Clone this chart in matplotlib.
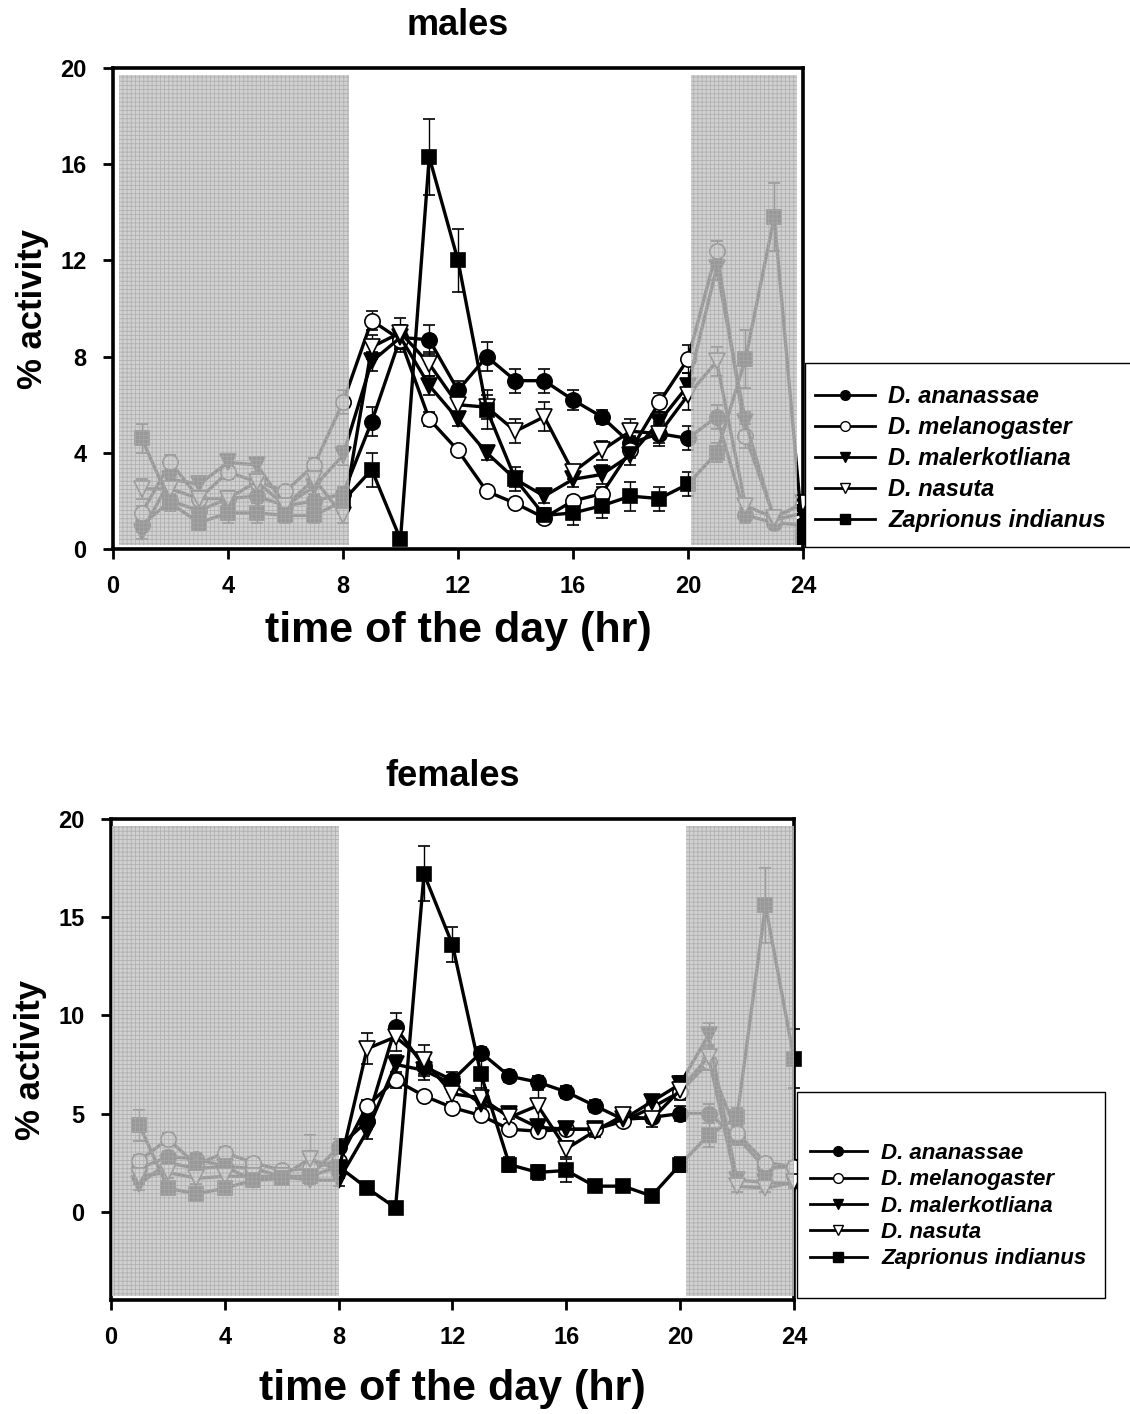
import matplotlib
matplotlib.use('Agg')
import matplotlib.pyplot as plt
from matplotlib.lines import Line2D
from matplotlib.patches import Rectangle
import numpy as np

plt.rcParams['font.family'] = ['Liberation Sans', 'DejaVu Sans']
plt.rcParams['font.weight'] = 'bold'
plt.rcParams['hatch.color'] = '#b8b8b8'
plt.rcParams['hatch.linewidth'] = 0.6

hours = np.arange(1, 25)

species = ['D. ananassae', 'D. melanogaster', 'D. malerkotliana',
           'D. nasuta', 'Zaprionus indianus']

# males, % activity per hour (1..24)
m_anan = [1.0, 2.0, 1.6, 2.1, 2.2, 1.8, 2.0, 2.3, 5.3, 8.8, 8.7, 6.6,
          8.0, 7.0, 7.0, 6.2, 5.5, 4.4, 4.8, 4.6, 5.5, 1.4, 1.1, 1.0]
m_mel = [1.5, 3.6, 2.1, 3.2, 2.8, 2.4, 3.5, 6.1, 9.5, 8.7, 5.4, 4.1,
         2.4, 1.9, 1.3, 2.0, 2.3, 4.1, 6.1, 7.9, 12.4, 4.7, 1.3, 1.9]
m_mal = [0.7, 2.9, 2.7, 3.6, 3.5, 1.8, 2.6, 3.9, 7.8, 8.8, 6.8, 5.4,
         4.0, 2.9, 2.2, 2.9, 3.1, 3.9, 5.3, 6.8, 11.7, 5.3, 1.2, 1.5]
m_nas = [2.5, 2.5, 2.1, 2.1, 2.8, 1.8, 2.9, 1.4, 8.4, 9.0, 7.7, 6.0,
         5.9, 4.9, 5.5, 3.2, 4.1, 4.9, 4.8, 6.4, 7.8, 1.8, 1.3, 1.9]
m_zap = [4.6, 1.9, 1.1, 1.5, 1.5, 1.4, 1.4, 2.0, 3.3, 0.4, 16.3, 12.0,
         5.8, 2.9, 1.4, 1.5, 1.8, 2.2, 2.1, 2.7, 4.0, 7.9, 13.8, 0.5]

m_anan_err = [0.3, 0.3, 0.3, 0.3, 0.3, 0.2, 0.3, 0.3, 0.6, 0.5, 0.6, 0.4,
              0.6, 0.5, 0.5, 0.4, 0.3, 0.3, 0.4, 0.5, 0.5, 0.3, 0.2, 0.2]
m_mel_err = [0.3, 0.3, 0.3, 0.3, 0.3, 0.2, 0.3, 0.5, 0.4, 0.5, 0.3, 0.2,
             0.2, 0.2, 0.2, 0.2, 0.3, 0.3, 0.4, 0.6, 0.4, 0.5, 0.2, 0.3]
m_mal_err = [0.3, 0.3, 0.3, 0.3, 0.3, 0.2, 0.3, 0.4, 0.4, 0.5, 0.4, 0.3,
             0.3, 0.3, 0.3, 0.3, 0.4, 0.4, 0.4, 0.5, 0.5, 0.4, 0.2, 0.3]
m_nas_err = [0.4, 0.3, 0.3, 0.3, 0.3, 0.2, 0.3, 0.3, 0.5, 0.6, 0.5, 0.4,
             0.5, 0.5, 0.6, 0.3, 0.4, 0.5, 0.5, 0.6, 0.6, 0.3, 0.2, 0.3]
m_zap_err = [0.6, 0.3, 0.3, 0.4, 0.4, 0.3, 0.3, 0.5, 0.7, 0.1, 1.6, 1.3,
             0.8, 0.5, 0.3, 0.5, 0.5, 0.6, 0.5, 0.5, 0.4, 1.2, 1.4, 0.3]

# females, % activity per hour (1..24)
f_anan = [2.2, 2.8, 2.7, 2.3, 2.2, 1.8, 1.8, 3.3, 4.6, 9.4, 7.4, 6.7,
          8.1, 6.9, 6.6, 6.1, 5.4, 4.7, 4.8, 5.0, 5.0, 3.8, 2.2, 2.3]
f_mel = [2.6, 3.7, 2.4, 3.0, 2.5, 2.1, 2.2, 2.6, 5.4, 6.7, 5.9, 5.3,
         4.9, 4.2, 4.1, 4.2, 4.2, 4.6, 5.3, 6.1, 7.6, 4.0, 2.5, 2.3]
f_mal = [1.4, 2.5, 2.2, 2.3, 1.6, 1.8, 1.6, 1.6, 4.1, 7.5, 7.2, 6.5,
         5.5, 5.0, 4.3, 4.2, 4.2, 4.7, 5.6, 6.5, 9.0, 1.6, 1.5, 1.4]
f_nas = [1.8, 2.0, 1.7, 1.8, 1.8, 1.8, 2.7, 2.1, 8.3, 8.9, 7.7, 6.0,
         5.8, 4.8, 5.4, 3.2, 4.1, 4.9, 4.7, 6.2, 7.9, 1.3, 1.2, 1.5]
f_zap = [4.4, 1.2, 0.9, 1.2, 1.6, 1.7, 1.8, 2.3, 1.2, 0.2, 17.2, 13.6,
         7.0, 2.4, 2.0, 2.1, 1.3, 1.3, 0.8, 2.4, 3.9, 4.8, 15.6, 7.8]

f_anan_err = [0.3, 0.3, 0.3, 0.3, 0.3, 0.2, 0.2, 0.4, 0.4, 0.7, 0.4, 0.4,
              0.3, 0.3, 0.3, 0.3, 0.3, 0.3, 0.3, 0.4, 0.5, 0.4, 0.3, 0.3]
f_mel_err = [0.3, 0.3, 0.3, 0.3, 0.3, 0.2, 0.2, 0.3, 0.3, 0.4, 0.2, 0.2,
             0.2, 0.2, 0.2, 0.2, 0.2, 0.2, 0.3, 0.3, 0.4, 0.4, 0.3, 0.3]
f_mal_err = [0.3, 0.3, 0.3, 0.3, 0.3, 0.2, 0.2, 0.3, 0.4, 0.5, 0.5, 0.4,
             0.3, 0.3, 0.2, 0.2, 0.2, 0.2, 0.3, 0.4, 0.6, 0.3, 0.2, 0.2]
f_nas_err = [0.4, 0.3, 0.3, 0.3, 0.3, 0.2, 1.2, 0.3, 0.8, 0.7, 0.8, 0.4,
             0.5, 0.4, 0.8, 0.4, 0.3, 0.4, 0.4, 0.5, 0.6, 0.3, 0.2, 0.2]
f_zap_err = [0.8, 0.3, 0.2, 0.3, 0.3, 0.3, 0.3, 0.6, 0.2, 0.1, 1.4, 0.9,
             0.9, 0.4, 0.4, 0.6, 0.3, 0.2, 0.2, 0.4, 0.6, 0.5, 1.9, 1.5]

styles = [('o', 'black'), ('o', 'white'), ('v', 'black'), ('v', 'white'), ('s', 'black')]

W, H = 1130, 1414
fig = plt.figure(figsize=(W / 100, H / 100), dpi=100)
ax1 = fig.add_axes([0.100, 0.6117, 0.6106, 0.3402])
ax2 = fig.add_axes([0.0982, 0.0806, 0.6044, 0.3402])


def draw(ax, series, errs, title, ylim, yticks, dark, xpad):
    for (mk, fc), y, e in zip(styles, series, errs):
        ax.errorbar(hours, y, yerr=e, color='black', lw=2.4, marker=mk,
                    markersize=11 if mk != 's' else 10, markerfacecolor=fc,
                    markeredgecolor='black', markeredgewidth=1.2,
                    ecolor='black', elinewidth=1.0, capsize=4, capthick=1.0,
                    zorder=3, clip_on=False)
    # dark phase shading drawn over the data
    for x0, x1 in dark:
        ax.axvspan(x0, x1, ymin=0.008, ymax=0.985, facecolor='#c4c4c4',
                   edgecolor='#a8a8a8', hatch='++++', lw=0, alpha=0.78, zorder=5)
    ax.set_xlim(0, 24)
    ax.set_ylim(*ylim)
    ax.set_xticks(np.arange(0, 25, 4))
    ax.set_yticks(yticks)
    ax.tick_params(direction='out', length=7, width=2, labelsize=17, pad=12)
    for lab in ax.get_xticklabels() + ax.get_yticklabels():
        lab.set_fontweight('bold')
    for sp in ax.spines.values():
        sp.set_linewidth(2.6)
    ax.set_title(title, fontsize=26, fontweight='bold', pad=24)
    ax.set_xlabel('time of the day (hr)', fontsize=31, fontweight='bold', labelpad=xpad)
    ax.set_ylabel('% activity', fontsize=25, fontweight='bold', labelpad=8)


def legend(box, anchor, size, spacing, hlen, tpad):
    x0, y0, x1, y1 = box
    fig.patches.append(Rectangle((x0 / W, 1 - y1 / H), (x1 - x0) / W, (y1 - y0) / H,
                                 transform=fig.transFigure, facecolor='white',
                                 edgecolor='black', lw=1.0, zorder=0))
    handles = [Line2D([], [], color='black', lw=2.0, marker=mk, markersize=7,
                      markerfacecolor=fc, markeredgecolor='black', markeredgewidth=1.0)
               for mk, fc in styles]
    fig.legend(handles, species, loc='upper left',
               bbox_to_anchor=(anchor[0] / W, 1 - anchor[1] / H),
               frameon=False, borderpad=0, borderaxespad=0,
               handlelength=hlen, handletextpad=tpad, labelspacing=spacing,
               prop={'family': 'Liberation Sans', 'weight': 'bold',
                     'style': 'italic', 'size': size})


draw(ax1, [m_anan, m_mel, m_mal, m_nas, m_zap],
     [m_anan_err, m_mel_err, m_mal_err, m_nas_err, m_zap_err],
     'males', (0, 20), np.arange(0, 21, 4), [(0.2, 8.2), (20.1, 23.8)], 9)
draw(ax2, [f_anan, f_mel, f_mal, f_nas, f_zap],
     [f_anan_err, f_mel_err, f_mal_err, f_nas_err, f_zap_err],
     'females', (-4.5, 20), np.arange(0, 21, 5), [(0.05, 8.0), (20.2, 24.0)], 14)

legend((805, 363, 1140, 547), (815, 385), 17, 0.34, 2.55, 0.55)
legend((797, 1092, 1105, 1298), (810, 1143), 16, 0.24, 2.55, 0.65)

fig.savefig('out.png', dpi=100)
